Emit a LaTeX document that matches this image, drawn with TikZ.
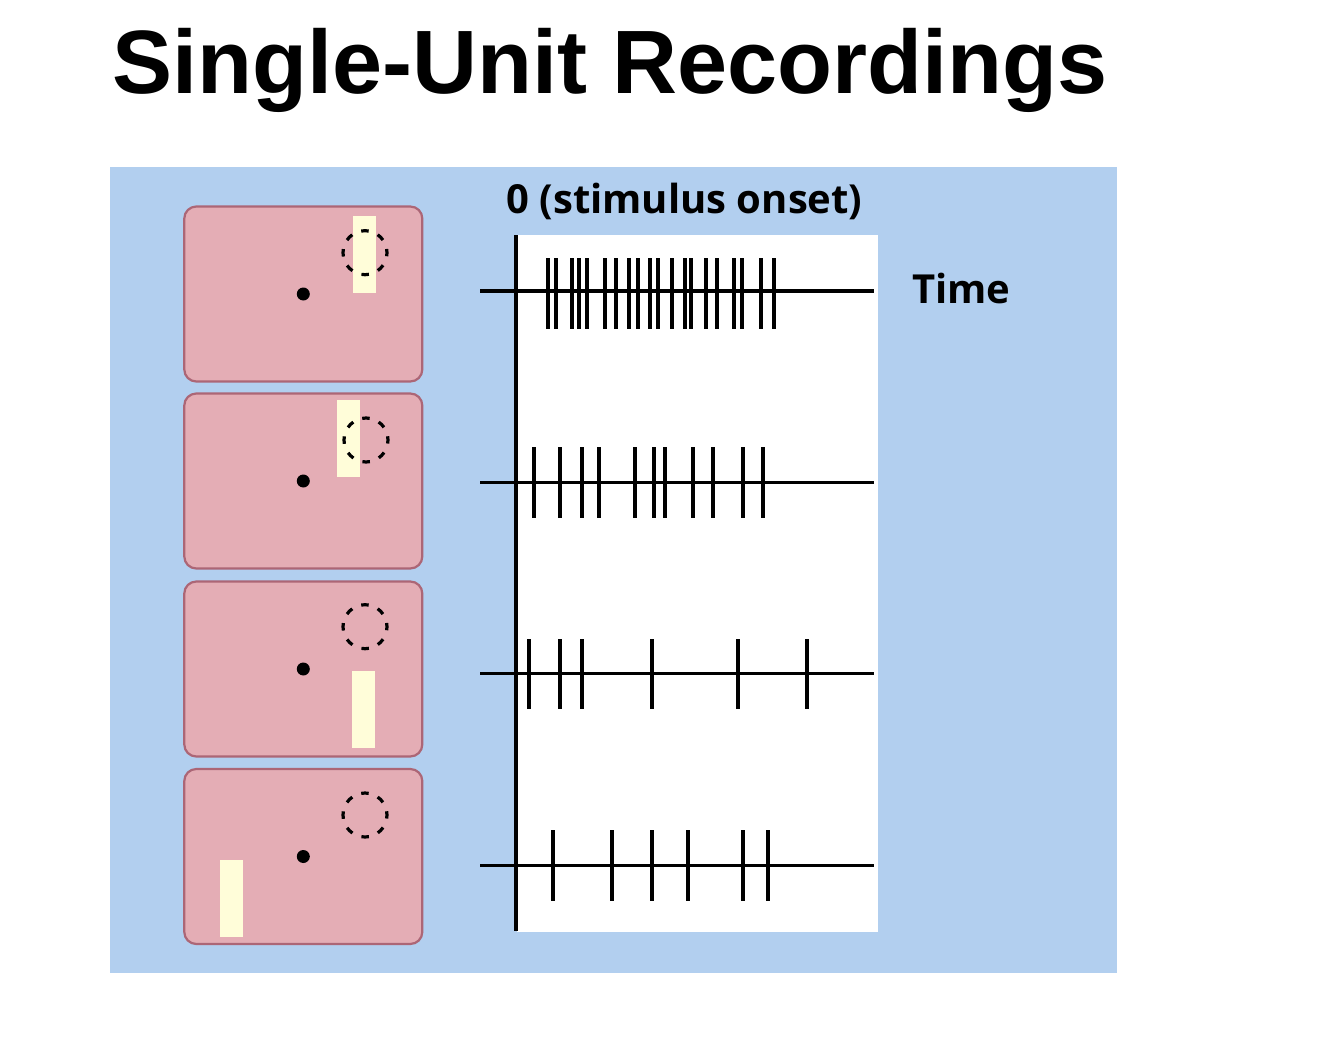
\documentclass[tikz,border=0pt]{standalone}
\usepackage{fontspec}
\setmainfont{Liberation Sans}
\newfontfamily\lblfont{Open Sans}
\definecolor{bgblue}{HTML}{B2CFEF}
\definecolor{panelpink}{HTML}{E4ADB5}
\definecolor{paneledge}{HTML}{AC6676}
\definecolor{baryellow}{HTML}{FFFDD9}
\begin{document}
\begin{tikzpicture}[x=1pt,y=-1pt,
  panel/.style={draw=paneledge, line width=2.2pt, fill=panelpink, rounded corners=12pt,
    minimum width=238pt, minimum height=175pt, inner sep=0pt},
  fixdot/.style={circle, fill=black, minimum size=13pt, inner sep=0pt},
  bar/.style={fill=baryellow, draw=none, minimum width=23pt, minimum height=77pt, inner sep=0pt},
  rfield/.style={circle, draw=black, line width=3.2pt, dash pattern=on 7.5pt off 9.78pt,
    dash phase=3.75pt, minimum size=44pt, inner sep=0pt},
  spike/.style={line width=4pt},
  trace/.style={line width=3.6pt},
  lbl/.style={font=\lblfont\bfseries\fontsize{40}{48}\selectfont, inner sep=0pt}
]
% canvas
\fill[white] (0,0) rectangle (1334,1050);
\useasboundingbox (0,0) rectangle (1334,1050);

% title
\node[font=\bfseries\fontsize{90}{100}\selectfont, inner sep=0pt, anchor=base] (title) at (610,93) {Single-Unit Recordings};

% blue background
\fill[bgblue] (110,167) rectangle (1117,973);

% panels
\node[panel] (p1) at (303.3,294) {};
\node[panel] (p2) at (303.3,481) {};
\node[panel] (p3) at (303.3,669) {};
\node[panel] (p4) at (303.3,856.5) {};

% stimulus bars
\node[bar] (b1) at (364.7,254.3) {};
\node[bar] (b2) at (348.7,438.8) {};
\node[bar] (b3) at (363.5,709) {};
\node[bar] (b4) at (231,898) {};

% receptive fields
\node[rfield] (r1) at (365,252.7) {};
\node[rfield] (r2) at (366,440) {};
\node[rfield] (r3) at (365,626.7) {};
\node[rfield] (r4) at (365,815) {};

% fixation dots
\node[fixdot] (d1) at (p1.center) {};
\node[fixdot] (d2) at (p2.center) {};
\node[fixdot] (d3) at (p3.center) {};
\node[fixdot] (d4) at (p4.center) {};

% raster area
\fill[white] (517,235) rectangle (878,932);
\coordinate (axtop) at (516,235);
\coordinate (axbot) at (516,931);
\draw[trace] (axtop) -- (axbot);

% traces
\coordinate (t1s) at (480,291);   \coordinate (t1e) at (874,291);
\coordinate (t2s) at (480,482.3); \coordinate (t2e) at (874,482.3);
\coordinate (t3s) at (480,673.3); \coordinate (t3e) at (874,673.3);
\coordinate (t4s) at (480,865.5); \coordinate (t4e) at (874,865.5);
\draw[trace] (t1s) -- (t1e);
\draw[trace] (t2s) -- (t2e);
\draw[trace] (t3s) -- (t3e);
\draw[trace] (t4s) -- (t4e);

% spikes
\foreach \x in {547.7,556,571.7,579.3,587.3,605,615.7,629.3,638.3,650.3,658,672.3,685,691.3,706.3,717.3,734,742.3,761.3,774.3}
  \draw[spike] (\x,258) -- (\x,329);
\foreach \x in {534.3,560,582.3,599.3,634.7,654.3,664.7,693.3,712.7,743.3,762.7}
  \draw[spike] (\x,447.3) -- (\x,518.3);
\foreach \x in {529,560.3,582.3,651.7,737.7,807.3}
  \draw[spike] (\x,639) -- (\x,709.3);
\foreach \x in {552.7,611.7,651.7,687.7,742.7,768.3}
  \draw[spike] (\x,830) -- (\x,900.7);

% labels
\node[lbl, anchor=base] (onset) at (684.5,213.3) {0 (stimulus onset)};
\node[lbl, anchor=base west] (time) at (912,303.3) {Time};
\end{tikzpicture}
\end{document}
